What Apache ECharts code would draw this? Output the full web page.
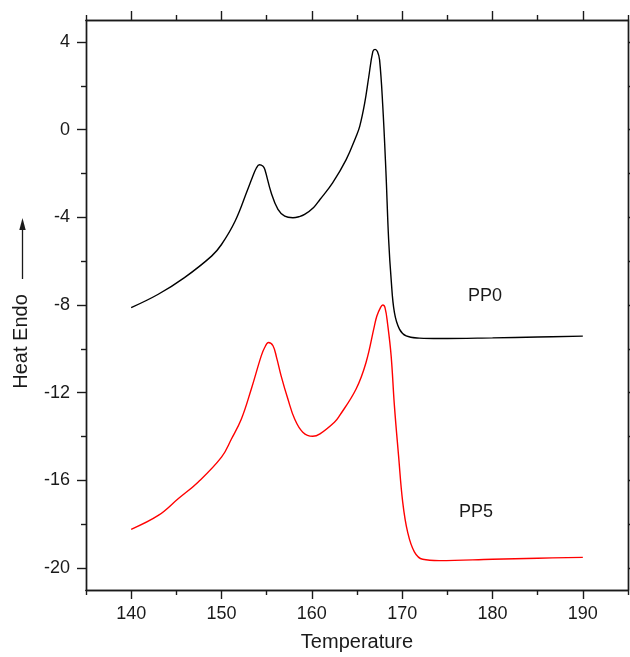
<!DOCTYPE html>
<html>
<head>
<meta charset="utf-8">
<script src="https://cdn.jsdelivr.net/npm/echarts@6/dist/echarts.min.js"></script>
<style>html,body{margin:0;padding:0;background:#fff}#c{width:630px;height:657px}</style>
</head>
<body>
<div id="c"></div>
<script>
// Temperature values (x) and heat flow (y)
const pp0Temp = [140.0,143.0,145.9,148.9,150.0,151.5,152.9,153.4,153.86,154.2,154.6,154.8,155.5,156.25,157.0,157.9,158.6,159.2,160.2,160.9,162.3,163.8,164.9,165.3,165.85,166.3,166.75,167.0,167.26,167.5,167.85,168.2,168.5,168.78,169.14,169.7,170.44,171.9,174.1,180.0,185.0,190.0];
const pp0Heat = [-8.12,-7.51,-6.75,-5.77,-5.24,-4.18,-2.73,-2.2,-1.75,-1.60,-1.67,-1.82,-2.88,-3.64,-3.95,-4.02,-3.97,-3.87,-3.55,-3.19,-2.43,-1.37,-0.31,0.15,1.21,2.4,3.56,3.66,3.56,3.18,1.1,-1.9,-5.0,-6.83,-8.34,-9.1,-9.41,-9.51,-9.53,-9.5,-9.46,-9.42];
const pp5Temp = [140.0,143.0,145.2,147.4,150.0,151.1,152.2,153.3,154.4,154.78,155.2,155.7,156.1,156.6,157.35,158.1,159.0,160.1,160.9,162.5,163.07,164.9,166.0,166.93,167.2,167.6,167.85,168.1,168.4,168.78,169.14,169.6,170.06,170.6,171.35,172.27,174.1,180.0,185.0,190.0];
const pp5Heat = [-18.23,-17.6,-16.84,-16.08,-14.94,-14.11,-13.2,-11.83,-10.32,-9.94,-9.71,-9.86,-10.4,-11.23,-12.29,-13.2,-13.8,-13.99,-13.88,-13.35,-13.05,-11.83,-10.62,-8.95,-8.5,-8.12,-8.0,-8.12,-8.9,-10.32,-12.59,-14.87,-16.99,-18.35,-19.26,-19.6,-19.66,-19.6,-19.55,-19.51];

const xMajor = [140,150,160,170,180,190];
const xMinor = [135,145,155,165,175,185,195];
const yMajor = [-20,-16,-12,-8,-4,0,4];
const yMinor = [-18,-14,-10,-6,-2,2];
const seriesNames = ['PP0','PP5'];
const labelPos = [[179.17,-7.59],[178.17,-17.44]];

const AX = '#1a1a1a';
const FONT = '"Liberation Sans", Arial, sans-serif';

function pairs(xs, ys){ return xs.map((x,i)=>[x, ys[i]]); }

function xAx(pos, ticks, len, labels){
  return {
    type:'value', position:pos, min:135, max:195,
    axisLine:{show:true, onZero:false, lineStyle:{color:AX, width:1.4}},
    axisTick:{show:true, inside:false, length:len, customValues:ticks, lineStyle:{color:AX, width:1.4}},
    axisLabel:{show:labels, customValues:ticks, margin:15, color:'#1a1a1a', fontSize:18, fontFamily:FONT},
    splitLine:{show:false}
  };
}
function yAx(pos, ticks, len, labels){
  return {
    type:'value', position:pos, min:-21, max:5,
    axisLine:{show:true, onZero:false, lineStyle:{color:AX, width:1.4}},
    axisTick:{show:true, inside:false, length:len, customValues:ticks, lineStyle:{color:AX, width:1.4}},
    axisLabel:{show:labels, customValues:ticks, margin:16, color:'#1a1a1a', fontSize:18, fontFamily:FONT},
    splitLine:{show:false}
  };
}

const xAxes = [
  Object.assign(xAx('bottom', xMajor, 9, true), {name:'Temperature', nameLocation:'middle', nameGap:42, nameTextStyle:{fontSize:20, color:'#1a1a1a', fontFamily:FONT}}),
  xAx('bottom', xMinor, 5, false),
  xAx('top', xMajor, 9, false),
  xAx('top', xMinor, 5, false)
];
const yAxes = [
  Object.assign(yAx('left', yMajor, 9, true), {name:'Heat Endo', nameLocation:'middle', nameGap:55, nameTextStyle:{fontSize:20, color:'#1a1a1a', fontFamily:FONT, padding:[0,73,0,0]}}),
  yAx('left', yMinor, 5, false),
  yAx('right', yMajor, 9, false),
  yAx('right', yMinor, 5, false)
];

function mkSeries(name, data, color, lp){
  return {
    name:name, type:'line', xAxisIndex:0, yAxisIndex:0, data:data,
    showSymbol:false, symbol:'none', smooth:0.4,
    lineStyle:{color:color, width:1.4}, itemStyle:{color:color},
    animation:false,
    markPoint:{
      symbol:'circle', symbolSize:1, itemStyle:{color:'rgba(0,0,0,0)'},
      data:[{coord:lp, value:name}],
      label:{show:true, position:'inside', formatter:name, color:'#1a1a1a', fontSize:18, fontFamily:FONT}
    }
  };
}

const chart = echarts.init(document.getElementById('c'), null, {renderer:'canvas'});
chart.setOption({
  animation:false,
  backgroundColor:'#fff',
  grid:{left:86, right:2, top:20, bottom:66, containLabel:false},
  xAxis:xAxes,
  yAxis:yAxes,
  graphic:[
    {type:'line', shape:{x1:22.5, y1:279, x2:22.5, y2:226}, style:{stroke:'#1a1a1a', lineWidth:1.3}},
    {type:'polygon', shape:{points:[[22.5,218],[19.3,230],[25.7,230]]}, style:{fill:'#1a1a1a'}}
  ],
  series:[
    mkSeries(seriesNames[0], pairs(pp0Temp, pp0Heat), '#000000', labelPos[0]),
    mkSeries(seriesNames[1], pairs(pp5Temp, pp5Heat), '#ff0000', labelPos[1])
  ]
});
</script>
</body>
</html>
